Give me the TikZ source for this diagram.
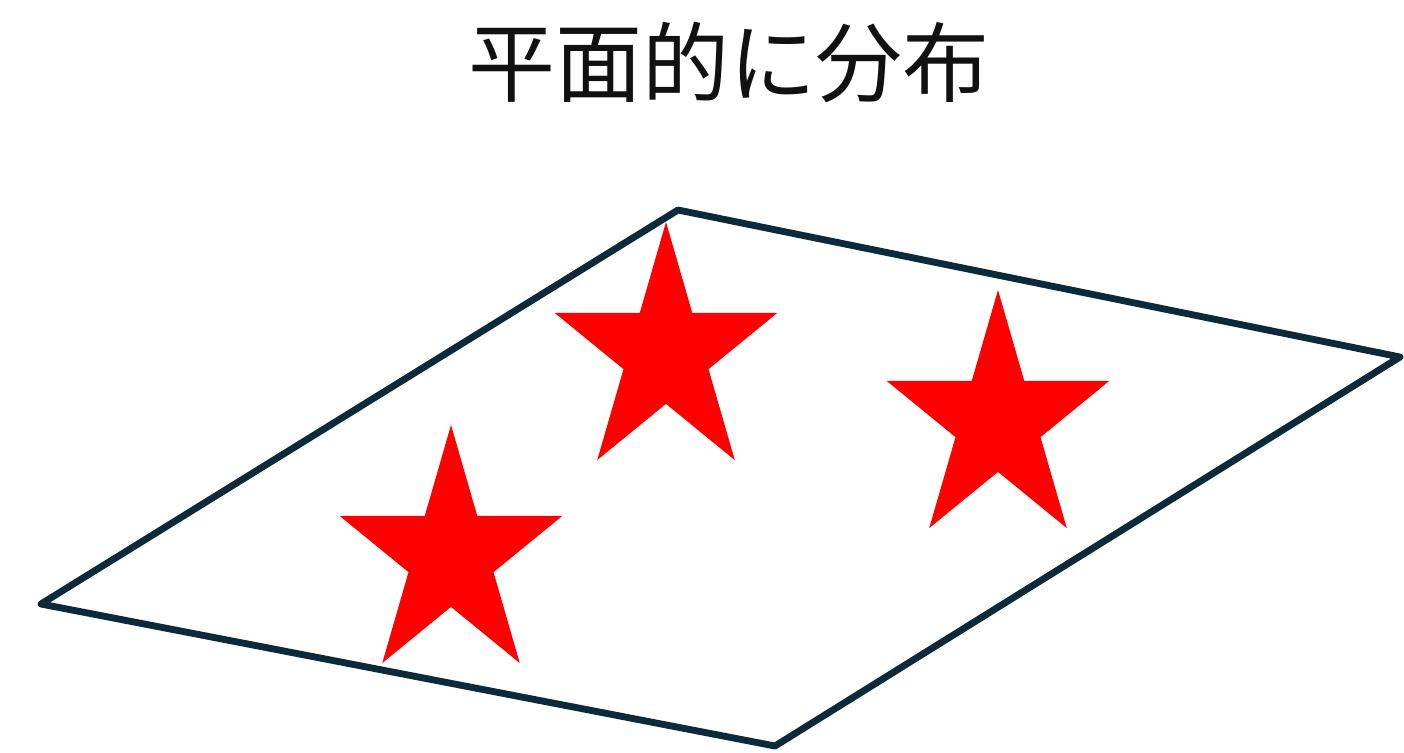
\documentclass[tikz,border=0pt]{standalone}
\usepackage{fontspec}
\newfontfamily\jpfont{Noto Sans CJK JP}
\definecolor{edgenavy}{HTML}{0D2A3A}
\definecolor{titlegray}{HTML}{111111}

\begin{document}
\begin{tikzpicture}[x=0.02cm, y=-0.02cm,
  plane/.style={draw=edgenavy, line width=3.9pt, line join=round},
  starfill/.style={fill=red}]
\useasboundingbox (0,0) rectangle (1404,752);
% title
\node[font=\jpfont\fontsize{49.5}{52}\selectfont, text=titlegray] (title) at (729,62) {平面的に分布};
% stars (drawn under the plane's edge)
\foreach \cx/\cy in {666/353.6, 998/421.6, 451/556.6}{
  \fill[starfill, shift={(\cx,\cy)}, xscale=117, yscale=131.6]
    (-90:1) -- (-54:0.382) -- (-18:1) -- (18:0.382) -- (54:1) -- (90:0.382)
    -- (126:1) -- (162:0.382) -- (198:1) -- (234:0.382) -- cycle;
}
% plane
\coordinate (pt) at (678,210);
\coordinate (pr) at (1400,357);
\coordinate (pb) at (775,746);
\coordinate (pl) at (41,604);
\draw[plane] (pt) -- (pr) -- (pb) -- (pl) -- cycle;
\end{tikzpicture}
\end{document}
